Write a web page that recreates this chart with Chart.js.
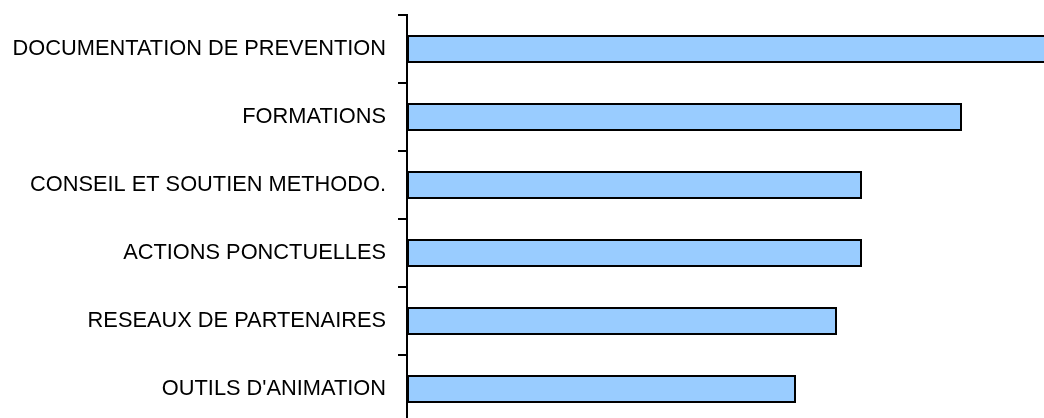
<!DOCTYPE html>
<html>
<head>
<meta charset="utf-8">
<script src="https://cdn.jsdelivr.net/npm/chart.js@4/dist/chart.umd.min.js"></script>
<style>
html,body{margin:0;padding:0;background:#fff;overflow:hidden;width:1044px;height:418px;}
#wrap{width:1044px;height:430px;}
</style>
</head>
<body>
<div id="wrap"><canvas id="c" width="1044" height="430"></canvas></div>
<script>
const categories = [
  "DOCUMENTATION DE PREVENTION",
  "FORMATIONS",
  "CONSEIL ET SOUTIEN METHODO.",
  "ACTIONS PONCTUELLES",
  "RESEAUX DE PARTENAIRES",
  "OUTILS D'ANIMATION"
];
const values = [75, 55.5, 45.5, 45.5, 43, 38.9];
const xMin = 0;
const xMax = 63.7;

new Chart(document.getElementById('c'), {
  type: 'bar',
  data: {
    labels: categories,
    datasets: [{
      data: values,
      backgroundColor: '#99CCFF',
      borderColor: '#000000',
      borderWidth: 2,
      borderSkipped: false,
      barPercentage: 0.41,
      categoryPercentage: 1.0
    }]
  },
  options: {
    indexAxis: 'y',
    responsive: false,
    animation: false,
    layout: { padding: { top: 15, bottom: 7, left: 0, right: 0 } },
    plugins: { legend: { display: false }, tooltip: { enabled: false } },
    scales: {
      x: { display: false, min: xMin, max: xMax },
      y: {
        afterFit: (s) => { s.width = 407; s.paddingTop = 0; s.paddingBottom = 0; },
        border: { display: true, color: '#000', width: 2 },
        grid: { offset: true, drawOnChartArea: false, drawTicks: true, tickLength: 9, color: '#000', lineWidth: 2 },
        ticks: { color: '#000', padding: 12, font: { family: 'Liberation Sans, Arial, sans-serif', size: 21.8 } }
      }
    }
  }
});
</script>
</body>
</html>
